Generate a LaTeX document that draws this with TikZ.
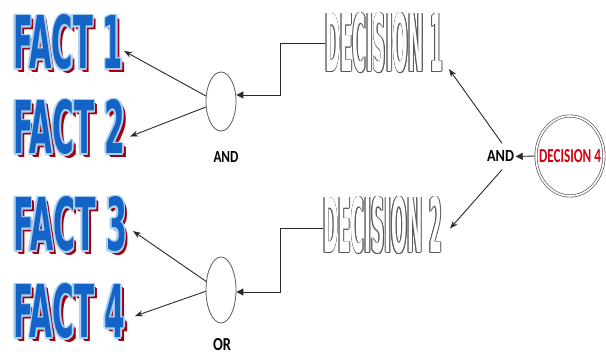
\documentclass[tikz,border=0pt]{standalone}
\usepackage{fontspec}
\setmainfont{DejaVu Sans}
\newfontfamily\calib{Carlito}
\usetikzlibrary{shapes.geometric,arrows.meta}
\definecolor{factblue}{HTML}{1463C6}
\definecolor{factrim}{HTML}{A9D1F2}
\definecolor{factred}{HTML}{A3000F}
\definecolor{decred}{HTML}{D40010}
\definecolor{linegray}{HTML}{2A2A2A}
\definecolor{rimgray}{HTML}{5A5A5A}
\newcommand{\bigword}[3]{\resizebox{#1pt}{#2pt}{\bfseries #3}}
\newcommand{\smallword}[3]{\resizebox{#1pt}{#2pt}{\calib\bfseries #3}}
\tikzset{
  wordbase/.style={anchor=base west, inner sep=0pt, outer sep=0pt},
  factshadow/.style={wordbase, text=factred},
  factrimtext/.style={wordbase, text=factrim},
  facttext/.style={wordbase, text=factblue},
  decrim/.style={wordbase, text=rimgray},
  dectext/.style={wordbase, text=white},
  gate/.style={ellipse, draw=rimgray, line width=0.8pt, minimum width=30pt, inner sep=0pt},
  conn/.style={draw=linegray, line width=0.9pt},
  diagarrow/.style={conn, -{Stealth[length=8pt,width=6pt]}},
  boxarrow/.style={conn, -{Triangle[length=7pt,width=7pt]}},
  gatelabel/.style={inner sep=1.5pt}
}
\newcommand{\factnode}[5]{%
  \node[factshadow] (#1s1) at (#2+2.5,#3+2.5) {\bigword{#4}{54}{#5}};
  \node[factshadow] (#1s2) at (#2+3.5,#3+3.5) {\bigword{#4}{54}{#5}};
  \foreach \dx/\dy [count=\i] in {1.7/0,-1.7/0,0/1.7,0/-1.7,1.2/1.2,-1.2/1.2,1.2/-1.2,-1.2/-1.2}
    \node[factrimtext] (#1r\i) at (#2+\dx,#3+\dy) {\bigword{#4}{54}{#5}};
  \node[facttext] (#1) at (#2,#3) {\bigword{#4}{54}{#5}};
}
\newcommand{\decnode}[6]{%
  \foreach \dx/\dy [count=\i] in {0.9/0,-0.9/0,0/0.9,0/-0.9,0.65/0.65,-0.65/0.65,0.65/-0.65,-0.65/-0.65}
    \node[decrim] (#1r\i) at (#2+\dx,#3+\dy) {\bigword{#4}{#5}{#6}};
  \node[dectext] (#1) at (#2,#3) {\bigword{#4}{#5}{#6}};
}
\begin{document}
\begin{tikzpicture}[x=1pt,y=-1pt]
\useasboundingbox[fill=white] (0,0) rectangle (606,352);

% facts
\factnode{f1}{13}{69}{110}{FACT 1}
\factnode{f2}{13}{154}{112}{FACT 2}
\factnode{f3}{13}{251}{114}{FACT 3}
\factnode{f4}{13}{338}{112}{FACT 4}

% decisions
\decnode{d1}{325}{72}{118}{59}{DECISION 1}
\decnode{d2}{323}{253}{119}{56}{DECISION 2}

% gates
\node[gate, minimum height=59pt] (e1) at (221,101.5) {};
\node[gate, minimum height=66pt] (e2) at (221,290) {};
\node[gatelabel] (and1) at (226,157) {\smallword{25}{11}{AND}};
\node[gatelabel] (or1) at (222,345) {\smallword{18}{12}{OR}};
\node[gatelabel] (and2) at (500.5,156.5) {\smallword{27}{11}{AND}};

% decision 4
\node[ellipse, draw=rimgray, double=white, double distance=1.6pt, line width=0.7pt,
      minimum width=68pt, minimum height=80pt, inner sep=0pt] (d4) at (570,156) {};
\node[inner sep=0pt, text=decred] (d4t) at (570,156.5) {\smallword{62}{13}{DECISION 4}};

% connectors decision -> gates
\coordinate (k1) at (280,95);
\coordinate (k2) at (280,292);
\draw[boxarrow] (d1.west) -| (k1) -- (k1 -| e1.east);
\draw[boxarrow] ([yshift=-3pt]d2.west) -| (k2) -- (k2 -| e2.east);

% gates -> facts
\draw[diagarrow] (e1.160) -- ([shift={(1,8.5)}]f1.east);
\draw[diagarrow] (e1.200) -- ([shift={(5,9)}]f2.east);
\draw[diagarrow] (e2.150) -- ([shift={(6,6.5)}]f3.east);
\draw[diagarrow] (e2.185) -- ([shift={(10,4.5)}]f4.east);

% decision 4 -> and -> decisions
\draw[boxarrow] (d4.west) -- (and2.east);
\draw[diagarrow] ([shift={(1.5,-6)}]and2.north) -- ([shift={(6,-4)}]d1.south east);
\draw[diagarrow] ([shift={(1.5,6)}]and2.south) -- ([shift={(8,3)}]d2.east);
\end{tikzpicture}
\end{document}
